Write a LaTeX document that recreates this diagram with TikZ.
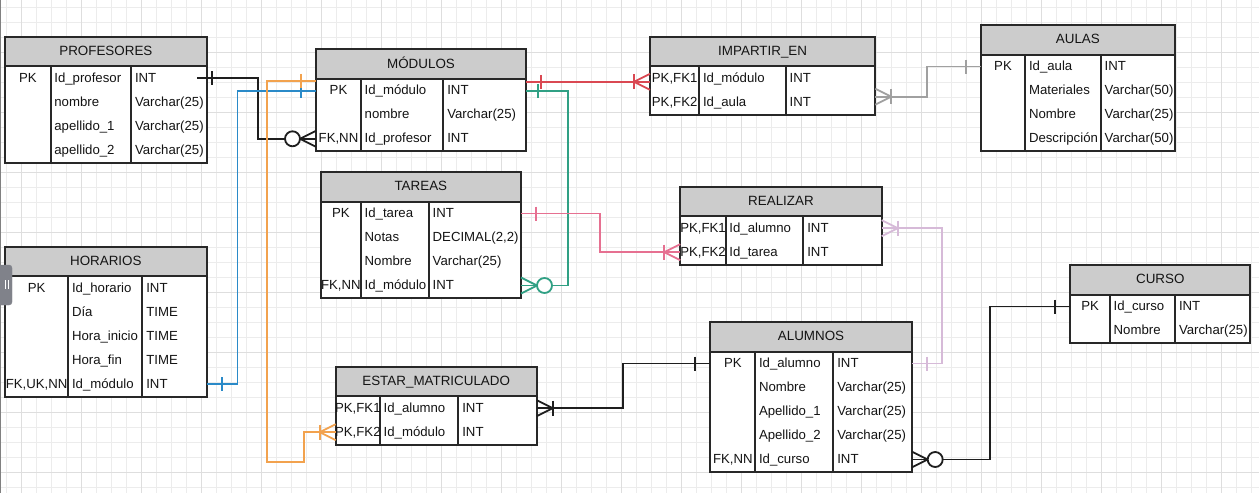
\documentclass[tikz,border=0pt]{standalone}
\usepackage{fontspec}
\setmainfont{Liberation Sans}
\usetikzlibrary{fit,calc}
\definecolor{bord}{RGB}{40,40,40}
\definecolor{hdrgray}{RGB}{204,204,204}
\definecolor{txt}{RGB}{20,20,20}
\definecolor{gminor}{RGB}{236,236,236}
\definecolor{gmajor}{RGB}{222,222,222}
\definecolor{cblack}{RGB}{30,30,30}
\definecolor{cred}{RGB}{218,72,82}
\definecolor{cteal}{RGB}{48,160,132}
\definecolor{cblue}{RGB}{42,138,200}
\definecolor{corange}{RGB}{242,162,78}
\definecolor{cpink}{RGB}{230,112,145}
\definecolor{cpurple}{RGB}{214,186,216}
\definecolor{cgray}{RGB}{160,160,160}
\definecolor{handle}{RGB}{128,130,138}
\tikzset{
 tblbody/.style={draw=bord, line width=2pt, fill=white, inner sep=0pt, outer sep=0pt},
 tblhead/.style={draw=bord, line width=2pt, fill=hdrgray},
 tblline/.style={draw=bord, line width=2pt},
 celltext/.style={inner sep=0pt, anchor=base west, text=txt, font=\fontsize{13.2}{15}\selectfont},
 keytext/.style={inner sep=0pt, anchor=base, text=txt, font=\fontsize{13.2}{15}\selectfont},
 titletext/.style={inner sep=0pt, anchor=base, text=txt, font=\fontsize{13.4}{15}\selectfont},
 conn/.style={line width=1.8pt},
}
% #1 name #2 x1 #3 ytop #4 x2 #5 c1 #6 c2 #7 rows #8 title #9 row list
\newcommand\ertable[9]{%
 \pgfmathsetmacro\hb{#3+29.5}%
 \pgfmathsetmacro\yb{\hb+24*#7+0.5}%
 \path (#2,#3) coordinate (#1-nw) (#4,\yb) coordinate (#1-se);
 \node[tblbody, fit=(#1-nw)(#1-se)] (#1) {};
 \draw[tblhead] (#1-nw) rectangle (#4,\hb);
 \node[titletext] (#1-title) at ({(#2+#4)/2},#3+18.7) {#8};
 \draw[tblline] (#5,\hb) -- (#5,\yb) (#6,\hb) -- (#6,\yb);
 \foreach \k/\f/\t [count=\i from 0] in {#9} {
  \pgfmathsetmacro\yr{\hb+16+24*\i}
  \node[keytext] (#1-k\i) at ({(#2+#5)/2},\yr) {\k};
  \node[celltext] (#1-f\i) at (#5+3.5,\yr) {\f};
  \node[celltext] (#1-t\i) at (#6+3.8,\yr) {\t};
  \coordinate (#1-\i w) at (#2,\hb+12+24*\i);
  \coordinate (#1-\i e) at (#4,\hb+12+24*\i);
 }
}
\newcommand\erone[4][15]{\draw[conn,#2] ([xshift={#4*#1}]#3) ++(0,-7) -- ++(0,14);}
\newcommand\erbar[3]{\draw[conn,#1] ([xshift={#3*16}]#2) ++(0,-7.5) -- ++(0,15);}
\newcommand\ermany[3]{\draw[conn,#1] ([yshift=8]#2) -- ([xshift={#3*16}]#2) -- ([yshift=-8]#2);}
\newcommand\ercirc[3]{\draw[conn,#1,fill=white] ([xshift={#3*23.5}]#2) circle[radius=7.5pt];}
\begin{document}
\begin{tikzpicture}[x=1pt,y=-1pt]
\useasboundingbox (0,0) rectangle (1259,493);
\fill[white] (0,0) rectangle (1259,493);
% grid
\foreach \x in {6,21,...,1256} \draw[gminor,line width=0.9pt] (\x,0) -- (\x,493);
\foreach \y in {7,22,...,492} \draw[gminor,line width=0.9pt] (0,\y) -- (1259,\y);
\foreach \x in {21,81,...,1241} \draw[gmajor,line width=0.9pt] (\x,0) -- (\x,493);
\foreach \y in {52,112,...,472} \draw[gmajor,line width=0.9pt] (0,\y) -- (1259,\y);
\draw[gray,line width=1.2pt] (0.6,0) -- (0.6,493);

% tables
\ertable{prof}{5}{36.7}{206.7}{50.7}{131}{4}{PROFESORES}{PK/Id\_profesor/INT, {}/nombre/Varchar(25), {}/apellido\_1/Varchar(25), {}/apellido\_2/Varchar(25)}
\ertable{mod}{316}{49.3}{526}{361}{443.3}{3}{MÓDULOS}{PK/Id\_módulo/INT, {}/nombre/Varchar(25), {FK,NN}/Id\_profesor/INT}
\ertable{imp}{650}{36.7}{875.3}{699.3}{785.7}{2}{IMPARTIR\_EN}{{PK,FK1}/Id\_módulo/INT, {PK,FK2}/Id\_aula/INT}
\ertable{aulas}{980.7}{25}{1175}{1025.3}{1100.7}{4}{AULAS}{PK/Id\_aula/INT, {}/Materiales/Varchar(50), {}/Nombre/Varchar(25), {}/Descripción/Varchar(50)}
\ertable{hor}{5}{246.7}{206.7}{68.3}{142.3}{5}{HORARIOS}{PK/Id\_horario/INT, {}/Día/TIME, {}/Hora\_inicio/TIME, {}/Hora\_fin/TIME, {FK,UK,NN}/Id\_módulo/INT}
\ertable{tareas}{320.7}{172}{521}{361}{428.7}{4}{TAREAS}{PK/Id\_tarea/INT, {}/Notas/{DECIMAL(2,2)}, {}/Nombre/Varchar(25), {FK,NN}/Id\_módulo/INT}
\ertable{real}{680.3}{186.7}{881.7}{725.7}{803.3}{2}{REALIZAR}{{PK,FK1}/Id\_alumno/INT, {PK,FK2}/Id\_tarea/INT}
\ertable{estar}{335.7}{366.7}{536.7}{380}{458.3}{2}{ESTAR\_MATRICULADO}{{PK,FK1}/Id\_alumno/INT, {PK,FK2}/Id\_módulo/INT}
\ertable{alum}{710.3}{322}{911.7}{755.3}{833.3}{5}{ALUMNOS}{PK/Id\_alumno/INT, {}/Nombre/Varchar(25), {}/Apellido\_1/Varchar(25), {}/Apellido\_2/Varchar(25), {FK,NN}/Id\_curso/INT}
\ertable{curso}{1070.3}{265}{1250.3}{1110}{1175}{2}{CURSO}{PK/Id\_curso/INT, {}/Nombre/Varchar(25)}

% scrollbar handle
\draw[handle,fill=handle,rounded corners=3pt] (-4,265) rectangle (12,305);
\draw[white,line width=0.8pt] (5,280) -- (5,289) (8,280) -- (8,289);

% connector end coordinates
\coordinate (p1) at ([xshift=-9.7]prof-0e);
\coordinate (o1) at ([yshift=10]mod-0w);
\coordinate (r1) at ([yshift=9]mod-0e);
\coordinate (r2) at (r1 -| imp-nw);
\coordinate (g1) at ([yshift=5.5]imp-1e);

% PROFESORES -> MODULOS
\draw[conn,cblack] (p1) -- ++(61.3,0) |- (mod-2w);
\erone{cblack}{p1}{1}
\ermany{cblack}{mod-2w}{-1}
\ercirc{cblack}{mod-2w}{-1}
% HORARIOS -> MODULOS (blue)
\draw[conn,cblue] (hor-4e) -- ++(30.8,0) |- (mod-0w);
\erone{cblue}{hor-4e}{1}
\erone{cblue}{mod-0w}{-1}
% ESTAR -> MODULOS (orange)
\draw[conn,corange] (estar-1w) -- ++(-31.4,0) -- ++(0,30.1) -- ++(-37,0) |- (o1);
\erone{corange}{o1}{-1}
\erbar{corange}{estar-1w}{-1}
\ermany{corange}{estar-1w}{-1}
% MODULOS -> IMPARTIR (red)
\draw[conn,cred] (r1) -- (r2);
\erone{cred}{r1}{1}
\erbar{cred}{r2}{-1}
\ermany{cred}{r2}{-1}
% MODULOS -> TAREAS (teal)
\draw[conn,cteal] (mod-0e) -- ++(42.3,0) |- (tareas-3e);
\erone[12]{cteal}{mod-0e}{1}
\ermany{cteal}{tareas-3e}{1}
\ercirc{cteal}{tareas-3e}{1}
% IMPARTIR -> AULAS (gray)
\draw[conn,cgray] (g1) -- ++(52,0) |- (aulas-0w);
\erbar{cgray}{g1}{1}
\ermany{cgray}{g1}{1}
\erone{cgray}{aulas-0w}{-1}
% TAREAS -> REALIZAR (pink)
\draw[conn,cpink] (tareas-0e) -- ++(79,0) |- (real-1w);
\erone{cpink}{tareas-0e}{1}
\erbar{cpink}{real-1w}{-1}
\ermany{cpink}{real-1w}{-1}
% REALIZAR -> ALUMNOS (purple)
\draw[conn,cpurple] (real-0e) -- ++(60.6,0) |- (alum-0e);
\erbar{cpurple}{real-0e}{1}
\ermany{cpurple}{real-0e}{1}
\erone{cpurple}{alum-0e}{1}
% ESTAR -> ALUMNOS (black)
\draw[conn,cblack] (estar-0e) -- ++(86,0) |- (alum-0w);
\erbar{cblack}{estar-0e}{1}
\ermany{cblack}{estar-0e}{1}
\erone{cblack}{alum-0w}{-1}
% ALUMNOS -> CURSO (black)
\draw[conn,cblack] (alum-4e) -- ++(78.3,0) |- (curso-0w);
\ermany{cblack}{alum-4e}{1}
\ercirc{cblack}{alum-4e}{1}
\erone{cblack}{curso-0w}{-1}
\end{tikzpicture}
\end{document}
